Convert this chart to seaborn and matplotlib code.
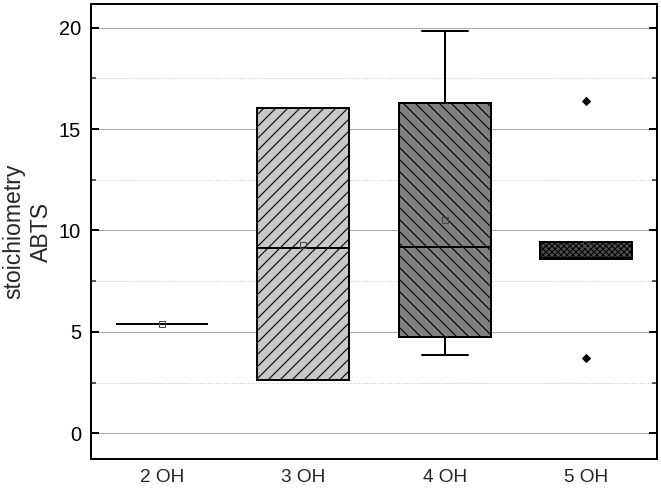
import pandas as pd
import matplotlib.pyplot as plt
from matplotlib.ticker import MultipleLocator
import seaborn as sns

# values (raw points chosen to give the drawn box stats)
groups = ["2 OH", "3 OH", "4 OH", "5 OH"]
oh2 = [5.38]
oh3 = [2.64, 2.64, 9.12, 16.02, 16.02]
oh4 = [3.87, 4.2, 4.74, 7.0, 9.19, 12.0, 16.3, 17.63, 19.84]
oh5 = [3.73, 8.58, 8.62, 9.43, 16.38]
box_colors = ["#ffffff", "#c8c8c8", "#808080", "#505050"]
box_hatches = ["", "//", "\\\\", "xxxx"]

df = pd.DataFrame({
    "group": [groups[0]] * len(oh2) + [groups[1]] * len(oh3)
             + [groups[2]] * len(oh4) + [groups[3]] * len(oh5),
    "value": oh2 + oh3 + oh4 + oh5,
})

sns.set_style("ticks")
plt.rcParams["font.family"] = ["Liberation Sans", "DejaVu Sans"]
plt.rcParams["hatch.linewidth"] = 1.1
plt.rcParams["hatch.color"] = "black"

# dpi 72 so the hatch spacing matches the original
fig, ax = plt.subplots(figsize=(661 / 72, 488 / 72), dpi=72)
fig.subplots_adjust(left=91 / 661, right=657 / 661, top=1 - 4 / 488, bottom=1 - 459 / 488)

sns.boxplot(
    data=df, x="group", y="value", hue="group", order=groups, hue_order=groups,
    palette=box_colors, saturation=1, legend=False, width=0.65,
    linecolor="black", linewidth=2, whis=1.5, fliersize=6, ax=ax,
    showmeans=True,
    meanprops=dict(marker="s", markerfacecolor="none", markeredgecolor="#444444",
                   markersize=6, markeredgewidth=1),
    flierprops=dict(marker="D", markerfacecolor="black", markeredgecolor="black"),
)

for patch, h in zip(ax.patches, box_hatches):
    patch.set_hatch(h)

ax.set_ylim(-1.26, 21.16)
ax.set_yticks([0, 5, 10, 15, 20])
ax.yaxis.set_minor_locator(MultipleLocator(2.5))
ax.yaxis.grid(True, which="major", color="#a8a8a8", linewidth=1)
ax.yaxis.grid(True, which="minor", color="#c8c8c8", linestyle=":", linewidth=1)
ax.set_axisbelow(True)

ax.tick_params(axis="y", which="major", direction="in", length=8, width=2,
               left=True, right=True, labelsize=20, pad=10, colors="black")
ax.tick_params(axis="y", which="minor", direction="in", length=5, width=1.5,
               left=True, right=True)
ax.tick_params(axis="x", length=0, labelsize=19, pad=10)

for side in ["top", "right", "bottom", "left"]:
    ax.spines[side].set_visible(True)
    ax.spines[side].set_linewidth(2)
    ax.spines[side].set_color("black")

ax.set_xlabel("")
ax.set_ylabel("stoichiometry\nABTS", fontsize=23, labelpad=6, linespacing=1.25)

plt.savefig("out.png", dpi=72)
plt.close()
